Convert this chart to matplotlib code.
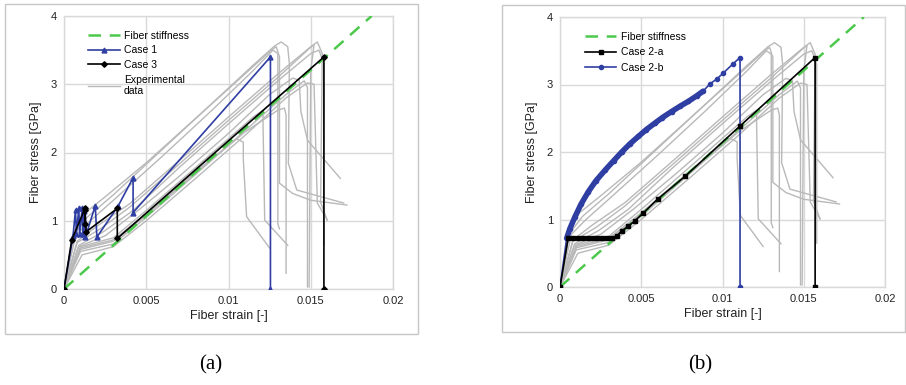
import matplotlib
matplotlib.use("Agg")
import matplotlib.pyplot as plt
from matplotlib.patches import Rectangle

plt.rcParams['font.family'] = ['Liberation Sans', 'DejaVu Sans']

# ---------------- data ----------------
fiber_strain = [0.0, 0.0187]
fiber_stress = [0.0, 4.0]

case1_strain = [0, 0.00055, 0.0007, 0.00075, 0.0009, 0.00095, 0.0011, 0.00115, 0.0012,
                0.0013, 0.0019, 0.0020, 0.0033, 0.0042, 0.0042, 0.01255, 0.01255]
case1_stress = [0, 0.78, 1.16, 0.80, 1.18, 0.80, 1.18, 0.80, 1.15,
                0.76, 1.22, 0.76, 1.22, 1.63, 1.12, 3.40, 0.0]

case3_strain = [0, 0.00047, 0.00128, 0.00128, 0.00128, 0.00135, 0.00324, 0.00324, 0.0158, 0.0158]
case3_stress = [0, 0.72, 1.18, 0.95, 1.16, 0.84, 1.18, 0.74, 3.40, 0.0]

case2a_strain = [0, 0.0005, 0.0008, 0.0011, 0.0014, 0.0017, 0.0020, 0.0023, 0.0026, 0.0029,
                 0.0032, 0.0035, 0.0038, 0.0042, 0.0046, 0.0051, 0.0060, 0.0077, 0.0111,
                 0.0157, 0.0157]
case2a_stress = [0, 0.72, 0.72, 0.72, 0.72, 0.72, 0.72, 0.72, 0.72, 0.72,
                 0.72, 0.76, 0.83, 0.90, 0.98, 1.09, 1.30, 1.64, 2.39,
                 3.40, 0.0]

case2b_strain = [0, 0.00041, 0.0006, 0.00092, 0.0013, 0.00174, 0.0022, 0.00277, 0.0033, 0.0038,
                 0.0043, 0.00482, 0.0053, 0.00585, 0.0063, 0.00687, 0.0074, 0.0079, 0.0084,
                 0.0088, 0.00923, 0.00964, 0.01005, 0.01062, 0.01108, 0.01108]
case2b_stress = [0, 0.72, 0.86, 1.04, 1.23, 1.41, 1.57, 1.73, 1.87, 2.00,
                 2.12, 2.23, 2.33, 2.43, 2.51, 2.60, 2.68, 2.75, 2.83,
                 2.90, 3.01, 3.08, 3.17, 3.30, 3.40, 0.0]

# experimental curves (strain, stress)
exp1_strain = [0, 0.0006, 0.0014, 0.003, 0.006, 0.009, 0.0115, 0.0128, 0.0132, 0.0136, 0.0137, 0.01364, 0.01415, 0.0170]
exp1_stress = [0, 0.80, 1.05, 1.38, 2.05, 2.72, 3.28, 3.56, 3.62, 3.55, 3.30, 1.84, 1.45, 1.26]
exp2_strain = [0, 0.0007, 0.0016, 0.003, 0.006, 0.009, 0.0115, 0.0127, 0.0130, 0.0130, 0.0131]
exp2_stress = [0, 0.78, 1.00, 1.30, 1.95, 2.62, 3.20, 3.50, 3.45, 0.95, 0.88]
exp3_strain = [0, 0.0006, 0.0012, 0.0025, 0.005, 0.008, 0.011, 0.0126, 0.0129, 0.0131, 0.0131, 0.0139, 0.0150, 0.0172]
exp3_stress = [0, 0.85, 1.10, 1.35, 1.85, 2.50, 3.15, 3.50, 3.55, 3.40, 1.55, 1.40, 1.30, 1.23]
exp4_strain = [0, 0.0008, 0.002, 0.004, 0.007, 0.010, 0.013, 0.0150, 0.0154, 0.0157, 0.0156, 0.0160]
exp4_stress = [0, 0.70, 0.92, 1.25, 1.88, 2.52, 3.15, 3.55, 3.62, 3.45, 1.27, 1.01]
exp5_strain = [0, 0.0008, 0.0022, 0.004, 0.007, 0.010, 0.013, 0.0149, 0.0152, 0.0150, 0.0149]
exp5_stress = [0, 0.68, 0.88, 1.20, 1.83, 2.47, 3.10, 3.52, 3.58, 3.20, 0.03]
exp6_strain = [0, 0.0009, 0.0024, 0.0042, 0.007, 0.010, 0.013, 0.0150, 0.0155, 0.0158, 0.0158]
exp6_stress = [0, 0.64, 0.84, 1.15, 1.78, 2.42, 3.05, 3.45, 3.50, 3.30, 0.65]
exp7_strain = [0, 0.0009, 0.0025, 0.0045, 0.007, 0.010, 0.0125, 0.0139, 0.0143, 0.0144, 0.0148, 0.0168]
exp7_stress = [0, 0.62, 0.78, 1.15, 1.65, 2.28, 2.85, 3.09, 3.06, 2.60, 2.18, 1.62]
exp8_strain = [0, 0.001, 0.003, 0.005, 0.008, 0.011, 0.0135, 0.0146, 0.0148, 0.0148]
exp8_stress = [0, 0.55, 0.66, 1.05, 1.68, 2.32, 2.85, 3.05, 2.95, 0.03]
exp9_strain = [0, 0.001, 0.003, 0.005, 0.008, 0.0105, 0.0109, 0.0109, 0.0111, 0.0125]
exp9_stress = [0, 0.60, 0.72, 1.10, 1.72, 2.20, 2.15, 1.90, 1.06, 0.60]
exp10_strain = [0, 0.001, 0.003, 0.005, 0.008, 0.011, 0.0130, 0.0134, 0.0135, 0.0135]
exp10_stress = [0, 0.58, 0.70, 1.08, 1.70, 2.30, 2.62, 2.65, 2.55, 0.23]
exp11_strain = [0, 0.001, 0.003, 0.005, 0.008, 0.0115, 0.0121, 0.0121, 0.0122, 0.0136]
exp11_stress = [0, 0.62, 0.75, 1.15, 1.78, 2.52, 2.62, 2.40, 1.01, 0.64]
exp12_strain = [0, 0.0011, 0.003, 0.005, 0.008, 0.011, 0.0135, 0.0148, 0.0152, 0.0154, 0.0160]
exp12_stress = [0, 0.50, 0.62, 1.00, 1.62, 2.25, 2.80, 3.02, 3.00, 1.26, 1.01]

exp_strains = [exp1_strain, exp2_strain, exp3_strain, exp4_strain, exp5_strain, exp6_strain,
               exp7_strain, exp8_strain, exp9_strain, exp10_strain, exp11_strain, exp12_strain]
exp_stresses = [exp1_stress, exp2_stress, exp3_stress, exp4_stress, exp5_stress, exp6_stress,
                exp7_stress, exp8_stress, exp9_stress, exp10_stress, exp11_stress, exp12_stress]

x_ticks = [0, 0.005, 0.01, 0.015, 0.02]
x_ticklabels = ['0', '0.005', '0.01', '0.015', '0.02']
y_ticks = [0, 1, 2, 3, 4]

BLUE = '#2f3ea3'
GREEN = '#4cc94c'
GRAY = '#b9b9b9'
GRID = '#d9d9d9'

fig = plt.figure(figsize=(9.06, 3.85), dpi=100)

# panel frames
fig.patches.append(Rectangle((5/906, 51/385), 413/906, 330/385, transform=fig.transFigure,
                             fill=False, edgecolor='#c6c6c6', lw=1.0))
fig.patches.append(Rectangle((502/906, 53/385), 403/906, 327/385, transform=fig.transFigure,
                             fill=False, edgecolor='#c6c6c6', lw=1.0))

axL = fig.add_axes([64/906, 96/385, 329/906, 273/385])
axR = fig.add_axes([560/906, 98/385, 325/906, 270/385])


def style(ax):
    ax.set_xlim(0, 0.02)
    ax.set_ylim(0, 4)
    ax.set_xticks(x_ticks)
    ax.set_xticklabels(x_ticklabels)
    ax.set_yticks(y_ticks)
    ax.tick_params(length=0, labelsize=8, colors='#222222', pad=5)
    ax.grid(True, color=GRID, lw=1.0)
    ax.set_axisbelow(True)
    for s in ax.spines.values():
        s.set_color(GRID)
        s.set_linewidth(1.0)
    ax.set_xlabel('Fiber strain [-]', fontsize=9, labelpad=3, color='#222222')
    ax.set_ylabel('Fiber stress [GPa]', fontsize=9, labelpad=6, color='#222222')


def draw_exp(ax):
    for i, (xs, ys) in enumerate(zip(exp_strains, exp_stresses)):
        ax.plot(xs, ys, color=GRAY, lw=1.0, zorder=2,
                label='Experimental\ndata' if i == 0 else '_nolegend_')


# ---- left panel ----
style(axL)
axL.plot(fiber_strain, fiber_stress, color=GREEN, lw=1.8, dashes=(5, 3.5), zorder=3,
         label='Fiber stiffness')
draw_exp(axL)
axL.plot(case1_strain, case1_stress, color=BLUE, lw=1.2, marker='^', ms=3.5, zorder=4,
         label='Case 1')
axL.plot(case3_strain, case3_stress, color='black', lw=1.2, marker='D', ms=2.8, zorder=5,
         label='Case 3')
h, l = axL.get_legend_handles_labels()
order = [l.index('Fiber stiffness'), l.index('Case 1'), l.index('Case 3'), l.index('Experimental\ndata')]
axL.legend([h[i] for i in order], [l[i] for i in order], loc='upper left',
           bbox_to_anchor=(0.058, 0.965), frameon=False, fontsize=7.5, handlelength=3.0,
           handletextpad=0.4, borderpad=0, labelspacing=0.45)

# ---- right panel ----
style(axR)
axR.plot(fiber_strain, fiber_stress, color=GREEN, lw=1.8, dashes=(5, 3.5), zorder=3,
         label='Fiber stiffness')
draw_exp(axR)
axR.plot(case2a_strain, case2a_stress, color='black', lw=1.2, marker='s', ms=2.8, zorder=5,
         label='Case 2-a')
axR.plot(case2b_strain, case2b_stress, color=BLUE, lw=1.2, marker='o', ms=3.0, zorder=4,
         label='Case 2-b')
thick_x = [x for x, y in zip(case2b_strain, case2b_stress) if 0 < x <= 0.0089 and y > 0]
thick_y = [y for x, y in zip(case2b_strain, case2b_stress) if 0 < x <= 0.0089 and y > 0]
axR.plot(thick_x, thick_y, color=BLUE, lw=4.0, solid_capstyle='round', zorder=4)
h, l = axR.get_legend_handles_labels()
order = [l.index('Fiber stiffness'), l.index('Case 2-a'), l.index('Case 2-b')]
axR.legend([h[i] for i in order], [l[i] for i in order], loc='upper left',
           bbox_to_anchor=(0.0615, 0.965), frameon=False, fontsize=7.5, handlelength=3.0,
           handletextpad=0.4, borderpad=0, labelspacing=0.55)

fig.text(211/906, 1 - 365/385, '(a)', ha='center', va='center', fontsize=15,
         family='Liberation Serif')
fig.text(700/906, 1 - 365/385, '(b)', ha='center', va='center', fontsize=15,
         family='Liberation Serif')

fig.savefig('out.png', dpi=100)
